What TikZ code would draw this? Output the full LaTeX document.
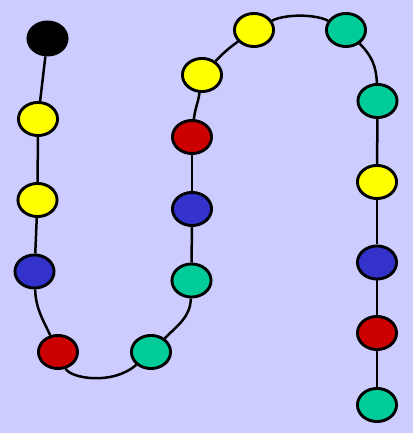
\documentclass[tikz,border=0pt]{standalone}
\usetikzlibrary{shapes.geometric}
\pgfdeclarelayer{bgl}
\pgfdeclarelayer{edgel}
\pgfsetlayers{bgl,edgel,main}
\definecolor{bgc}{HTML}{CCCCFF}
\definecolor{cy}{HTML}{FFFF00}
\definecolor{cr}{HTML}{CC0000}
\definecolor{cb}{HTML}{3333CC}
\definecolor{cg}{HTML}{00CC99}
\tikzset{
  bead/.style={ellipse, draw=black, line width=2.9pt, minimum width=39.1pt, minimum height=33.1pt, inner sep=0pt},
  link/.style={draw=black, line width=2.5pt},
}
\begin{document}
\begin{tikzpicture}[x=1pt,y=1pt]
\begin{pgfonlayer}{bgl}
\fill[bgc] (0,0) rectangle (413,433);
\end{pgfonlayer}
\useasboundingbox (0,0) rectangle (413,433);
\node[bead, fill=black] (n1) at (47.5,394.5) {};
\node[bead, fill=cy] (n2) at (38,314) {};
\node[bead, fill=cy] (n3) at (37.5,233) {};
\node[bead, fill=cb] (n4) at (34.5,161.5) {};
\node[bead, fill=cr] (n5) at (58,81) {};
\node[bead, fill=cg] (n6) at (151,81) {};
\node[bead, fill=cg] (n7) at (191.5,152.5) {};
\node[bead, fill=cb] (n8) at (192,224) {};
\node[bead, fill=cr] (n9) at (192,296) {};
\node[bead, fill=cy] (n10) at (202,358) {};
\node[bead, fill=cy] (n11) at (254,403) {};
\node[bead, fill=cg] (n12) at (346,403) {};
\node[bead, fill=cg] (n13) at (377.5,332) {};
\node[bead, fill=cy] (n14) at (377,251) {};
\node[bead, fill=cb] (n15) at (377,170.5) {};
\node[bead, fill=cr] (n16) at (377,100) {};
\node[bead, fill=cg] (n17) at (377,28) {};
\begin{pgfonlayer}{edgel}
\coordinate (c1) at (70,55);
\coordinate (c2) at (112,47);
\coordinate (c3) at (285,419);
\coordinate (c4) at (315,419);
\path[link] (n1) -- (n2);
\path[link] (n2) -- (n3);
\path[link] (n3) -- (n4);
\path[link] (n4) to[out=-88,in=115] (n5);
\path[link] (n5) .. controls (c1) and (c2) .. (n6);
\path[link] (n6) to[out=45,in=-92] (n7);
\path[link] (n7) -- (n8);
\path[link] (n8) -- (n9);
\path[link] (n9) to[out=84,in=-98] (n10);
\path[link] (n10) to[bend left=5] (n11);
\path[link] (n11) .. controls (c3) and (c4) .. (n12);
\path[link] (n12) to[out=-45,in=92] (n13);
\path[link] (n13) -- (n14);
\path[link] (n14) -- (n15);
\path[link] (n15) -- (n16);
\path[link] (n16) -- (n17);
\end{pgfonlayer}
\end{tikzpicture}
\end{document}
